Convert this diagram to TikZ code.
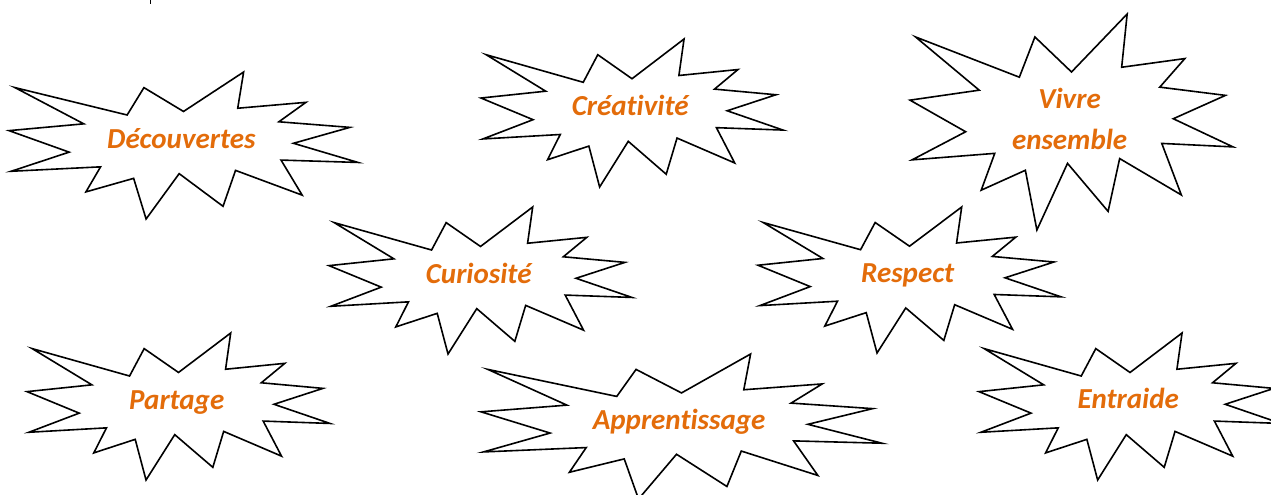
\documentclass[tikz,border=0pt]{standalone}
\usepackage{fontspec}
\setmainfont{Carlito}[Ligatures={NoCommon}]
\definecolor{lblorange}{HTML}{E36C0A}
\tikzset{
  sealbox/.style={draw=black, line width=1.6pt, line join=miter, fill=white},
  lbl/.style={text=lblorange, font=\fontsize{29}{41}\selectfont\bfseries\itshape, align=center, inner sep=0pt, anchor=base}
}
\newcommand\sealat[4]{%
  \begin{scope}[shift={(#1,#2)},xscale=#3/216,yscale=#4/216]
    \draw[sealbox] (108,58) -- (145.22,0) -- (141.55,53.25) -- (183.80,44.57) -- (167.02,73.15) -- (210.97,81.37) -- (176.07,104.75) -- (216,132.90) -- (168.37,129.42) -- (181.45,180.95) -- (140.20,144.57) -- (132.47,197.37) -- (105.32,149.35) -- (84.85,216) -- (77.15,156.27) -- (47.62,176.17) -- (56.67,139.37) -- (1.35,145.87) -- (37.22,117.75) -- (0,86.15) -- (46.27,76.17) -- (3.70,22.95) -- (73.12,63.20) -- (83.52,22.95) -- cycle;
  \end{scope}}
\begin{document}
\begin{tikzpicture}[x=1pt,y=-1pt]
  \useasboundingbox (0,0) rectangle (1271,495);
  \draw[line width=1.2pt] (150.7,0) -- (150.7,4);
  % shapes
  \sealat{9}{72}{349}{147}
  \sealat{481}{39}{302}{148}
  \sealat{910}{14}{323}{216}
  \sealat{329}{207}{303}{147}
  \sealat{758}{207}{303}{146}
  \sealat{27}{333}{303}{147}
  \sealat{481}{354}{401}{145}
  \sealat{979}{333}{302}{147}
  % labels
  \node[lbl] (decouvertes) at (181.4,148) {Découvertes};
  \node[lbl] (creativite) at (630.2,115) {Créativité};
  \node[lbl] (vivre) at (1069.6,149.3) {Vivre\\ensemble};
  \node[lbl] (curiosite) at (478.7,283) {Curiosité};
  \node[lbl] (respect) at (907.7,282.5) {Respect};
  \node[lbl] (partage) at (176.7,409) {Partage};
  \node[lbl] (apprentissage) at (679.1,429) {Apprentissage};
  \node[lbl] (entraide) at (1128.2,408.5) {Entraide};
\end{tikzpicture}
\end{document}
